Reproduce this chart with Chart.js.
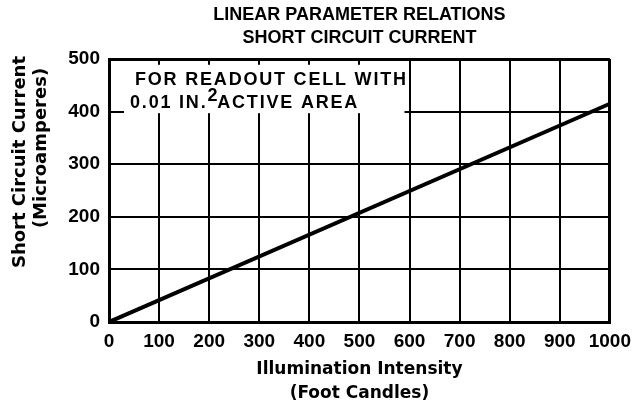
<!DOCTYPE html>
<html>
<head>
<meta charset="utf-8">
<script src="https://cdn.jsdelivr.net/npm/chart.js@4.4.1/dist/chart.umd.min.js"></script>
<style>
  html, body { margin: 0; padding: 0; background: #fff; }
  #wrap { width: 639px; height: 414px; }
</style>
</head>
<body>
<div id="wrap"><canvas id="currentChart" width="639" height="414"></canvas></div>
<script>
// illumination (foot candles) vs short circuit current (microamperes)
const intensity = [0, 1000];
const current = [0, 415];
const xTicks = [0, 100, 200, 300, 400, 500, 600, 700, 800, 900, 1000];
const yTicks = [0, 100, 200, 300, 400, 500];

const chartTitle = ["LINEAR PARAMETER RELATIONS", "SHORT CIRCUIT CURRENT"];
const xTitle = ["Illumination Intensity", "(Foot Candles)"];
const yTitle = ["Short Circuit Current", "(Microamperes)"];
const noteLines = ["FOR READOUT CELL WITH", "0.01 IN.", "2", "ACTIVE AREA"];

const SANS = "'Liberation Sans', Arial, Helvetica, sans-serif";
const WIDE = "'DejaVu Sans', 'Liberation Sans', Arial, sans-serif";

// white note box sitting over the grid, anchored in data units
const noteBox = { x0: 30, x1: 590, y0: 397, y1: 489 };

const notePlugin = {
  id: "note",
  beforeDatasetsDraw(chart) {
    const ctx = chart.ctx;
    const xs = chart.scales.x;
    const ys = chart.scales.y;
    const left = xs.getPixelForValue(noteBox.x0);
    const right = xs.getPixelForValue(noteBox.x1);
    const top = ys.getPixelForValue(noteBox.y1);
    const bottom = ys.getPixelForValue(noteBox.y0);
    ctx.save();
    ctx.fillStyle = "#fff";
    ctx.fillRect(left, top, right - left, bottom - top);

    ctx.fillStyle = "#000";
    ctx.textBaseline = "middle";
    ctx.textAlign = "left";
    ctx.font = "bold 18px " + SANS;
    ctx.letterSpacing = "1.8px";
    ctx.fillText(noteLines[0], left + 11, top + 15);

    let x = left + 6;
    const y2 = top + 38;
    ctx.fillText(noteLines[1], x, y2);
    x += ctx.measureText(noteLines[1]).width;
    ctx.fillText(noteLines[2], x, y2 - 7);
    x += ctx.measureText(noteLines[2]).width - 2;
    ctx.fillText(noteLines[3], x, y2);
    ctx.restore();
  }
};

// y axis title, a little above the plot's middle as in the original
const yTitlePlugin = {
  id: "yTitle",
  afterDraw(chart) {
    const ctx = chart.ctx;
    const area = chart.chartArea;
    ctx.save();
    ctx.fillStyle = "#000";
    ctx.font = "bold 18px " + WIDE;
    ctx.textAlign = "center";
    ctx.textBaseline = "middle";
    ctx.translate(20, area.top + 103);
    ctx.rotate(-Math.PI / 2);
    ctx.fillText(yTitle[0], 0, 0);
    ctx.fillText(yTitle[1], 14, 21);
    ctx.restore();
  }
};

const ctx = document.getElementById("currentChart").getContext("2d");

new Chart(ctx, {
  type: "line",
  data: {
    datasets: [{
      data: intensity.map((v, i) => ({ x: v, y: current[i] })),
      borderColor: "#000",
      borderWidth: 4,
      pointRadius: 0,
      tension: 0,
      fill: false
    }]
  },
  options: {
    responsive: false,
    animation: false,
    layout: { padding: { left: 0, right: 23, top: 0, bottom: 0 } },
    plugins: {
      legend: { display: false },
      tooltip: { enabled: false },
      title: {
        display: true,
        fullSize: false,
        text: chartTitle,
        color: "#000",
        font: { family: SANS, size: 18, weight: "bold", lineHeight: 1.25 },
        padding: { top: 4, bottom: 10 }
      }
    },
    scales: {
      x: {
        type: "linear",
        min: 0,
        max: 1000,
        afterBuildTicks: (s) => { s.ticks = xTicks.map(v => ({ value: v })); },
        afterFit: (s) => { s.height = 92; },
        grid: {
          color: "#000",
          lineWidth: (c) => (c.tick && c.tick.value === 1000 ? 3 : 2),
          drawTicks: false
        },
        border: { color: "#000", width: 3 },
        ticks: {
          color: "#000",
          padding: 8,
          maxRotation: 0,
          autoSkip: false,
          callback: (v) => String(v),
          font: { family: SANS, size: 19, weight: "bold" }
        },
        title: {
          display: true,
          text: xTitle,
          color: "#000",
          font: { family: WIDE, size: 17, weight: "bold", lineHeight: 1.4 },
          padding: { top: 0, bottom: 9 }
        }
      },
      y: {
        type: "linear",
        min: 0,
        max: 500,
        afterBuildTicks: (s) => { s.ticks = yTicks.map(v => ({ value: v })); },
        afterFit: (s) => { s.width = 109; },
        grid: {
          color: "#000",
          lineWidth: (c) => (c.tick && c.tick.value === 500 ? 3 : 2),
          drawTicks: false
        },
        border: { color: "#000", width: 3 },
        ticks: {
          color: "#000",
          padding: 9,
          autoSkip: false,
          callback: (v) => String(v),
          font: { family: SANS, size: 19, weight: "bold" }
        },
        title: { display: false }
      }
    }
  },
  plugins: [notePlugin, yTitlePlugin]
});
</script>
</body>
</html>
